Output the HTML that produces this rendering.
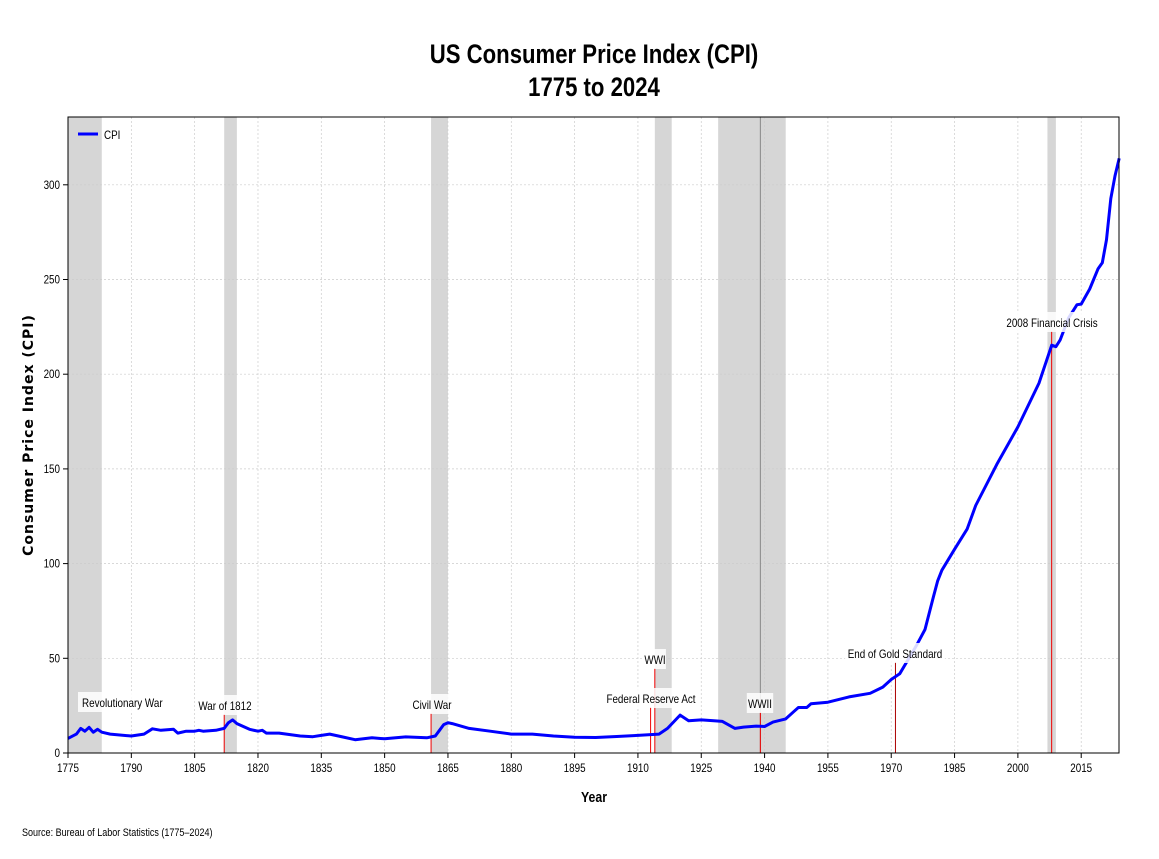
<!DOCTYPE html>
<html><head><meta charset="utf-8"><style>
body{margin:0;background:#fff}
svg text{font-family:"Liberation Sans",sans-serif}
</style></head><body>
<svg id="s" width="1159" height="854" xmlns="http://www.w3.org/2000/svg">
<rect width="1159" height="854" fill="#fff"/>
<text class="c" x="594" y="63" font-size="27" font-weight="bold" text-anchor="middle">US Consumer Price Index (CPI)</text>
<text class="c" x="594" y="96" font-size="27" font-weight="bold" text-anchor="middle">1775 to 2024</text>
<g id="g"></g>
<text class="c" x="594" y="802" font-size="15" font-weight="bold" text-anchor="middle">Year</text>
<text transform="translate(33,435) rotate(-90)" font-size="14" font-weight="bold" text-anchor="middle" style="font-family:'DejaVu Sans',sans-serif;letter-spacing:1px">Consumer Price Index (CPI)</text>
<text class="c" x="22" y="836" font-size="11">Source: Bureau of Labor Statistics (1775–2024)</text>
</svg>
<script>
const X=y=>68+(y-1775)*4.2217, Y=v=>753-v*1.894;
let h='';
const sh=[[1775,1783],[1812,1815],[1861,1865],[1914,1918],[1929,1945],[2007,2009]];
sh.forEach(([a,b])=>h+=`<rect x="${X(a)}" y="117" width="${X(b)-X(a)}" height="636" fill="#d6d6d6"/>`);
for(let y=1775;y<=2015;y+=15){h+=`<line x1="${X(y)}" x2="${X(y)}" y1="117" y2="753" stroke="#ccc" stroke-dasharray="2,2" stroke-width="0.7"/><line x1="${X(y)}" x2="${X(y)}" y1="753" y2="758" stroke="#000"/><text class="c" x="${X(y)}" y="772" font-size="12" text-anchor="middle">${y}</text>`;}
for(let v=0;v<=300;v+=50){h+=`<line x1="68" x2="1119" y1="${Y(v)}" y2="${Y(v)}" stroke="#ccc" stroke-dasharray="2,2" stroke-width="0.7"/><line x1="63" x2="68" y1="${Y(v)}" y2="${Y(v)}" stroke="#000"/><text class="c" x="60" y="${Y(v)+4}" font-size="12" text-anchor="end">${v}</text>`;}
h+=`<line x1="${X(1939)}" x2="${X(1939)}" y1="117" y2="753" stroke="#888" stroke-width="1"/>`;
const ann=[[1812,'War of 1812',706,225],[1861,'Civil War',705,432],[1913,'Federal Reserve Act',699,651],[1914,'WWI',660,655],[1939,'WWII',704,760],[1971,'End of Gold Standard',654,895],[2008,'2008 Financial Crisis',323,1052]];
ann.forEach(([yr,t,ly,cx])=>{h+=`<line x1="${X(yr)}" x2="${X(yr)}" y1="${ly+8}" y2="753" stroke="${yr==1971?'#a00':'#e00'}" stroke-width="1"/>`;});
const d=[[1775,7.7],[1777,10],[1778,13],[1779,11.5],[1780,13.5],[1781,11],[1782,12.5],[1783,11],[1785,10],[1790,9],[1793,10],[1795,12.8],[1797,12],[1800,12.5],[1801,10.5],[1803,11.5],[1805,11.5],[1806,12],[1807,11.5],[1810,12],[1812,13],[1813,16],[1814,17.5],[1815,15.5],[1818,12.5],[1820,11.5],[1821,12],[1822,10.5],[1825,10.5],[1830,9],[1833,8.6],[1835,9.3],[1837,10],[1840,8.5],[1843,7],[1845,7.5],[1847,8],[1850,7.5],[1855,8.5],[1860,8],[1862,9],[1863,12],[1864,15],[1865,16],[1866,15.5],[1870,13],[1875,11.5],[1880,10],[1885,10],[1890,9],[1895,8.3],[1900,8.2],[1905,8.7],[1910,9.3],[1915,10],[1917,13],[1920,20],[1922,17],[1925,17.5],[1928,17],[1930,16.7],[1933,13],[1935,13.7],[1938,14.2],[1940,14],[1942,16.3],[1945,18],[1947,22],[1948,24],[1950,24],[1951,26],[1955,26.8],[1960,29.6],[1965,31.5],[1968,34.8],[1970,38.8],[1972,41.8],[1974,49.3],[1976,56.9],[1978,65.2],[1980,82.4],[1981,90.9],[1982,96.5],[1985,107.6],[1988,118.3],[1990,130.7],[1995,152.4],[2000,172.2],[2005,195.3],[2008,215.3],[2009,214.5],[2010,218],[2012,229.6],[2014,236.7],[2015,237],[2017,245],[2019,255.7],[2020,258.8],[2021,271],[2022,292.7],[2023,304.7],[2024,314]];
h+=`<polyline fill="none" stroke="#0000ff" stroke-width="3" stroke-linejoin="round" points="${d.map(p=>X(p[0]).toFixed(1)+','+Y(p[1]).toFixed(1)).join(' ')}"/>`;
const lab=[[82,703,'Revolutionary War','start'],...ann.map(a=>[a[3],a[2],a[1],'middle'])];
lab.forEach(([x,y,t,an])=>{const w=t.length*4.6+8;const bx=an=='start'?x-4:x-w/2;h+=`<rect x="${bx}" y="${y-11}" width="${w}" height="20" fill="#fff" opacity="0.85"/><text class="c" x="${x}" y="${y+4}" font-size="12" text-anchor="${an}">${t}</text>`;});
h+=`<rect x="68" y="117" width="1051" height="636" fill="none" stroke="#000" stroke-width="1"/>`;
h+=`<line x1="78" x2="98" y1="134" y2="134" stroke="#0000ff" stroke-width="3"/><text class="c" x="104" y="139" font-size="12">CPI</text>`;
document.getElementById('g').innerHTML=h;
document.querySelectorAll('text.c').forEach(t=>{const l=t.getComputedTextLength();t.setAttribute('textLength',(l*0.82).toFixed(1));t.setAttribute('lengthAdjust','spacingAndGlyphs');});
</script>
</body></html>
